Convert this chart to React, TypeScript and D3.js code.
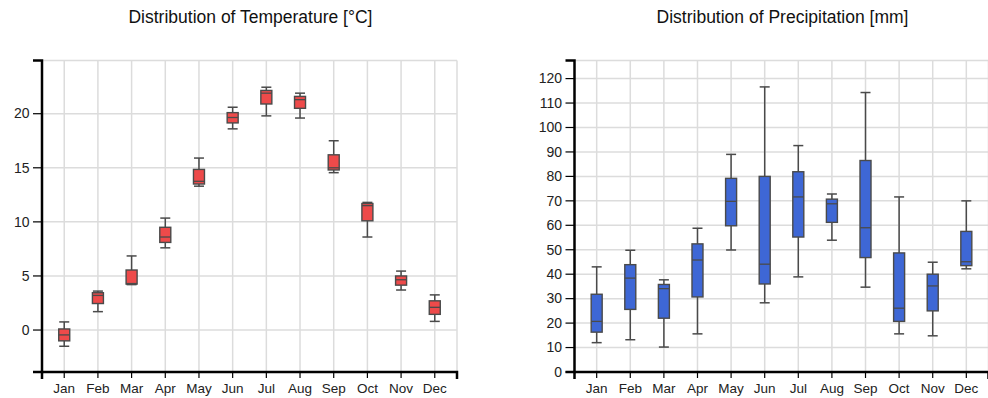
import React from "react";
import * as d3 from "d3";

const months = ["Jan", "Feb", "Mar", "Apr", "May", "Jun", "Jul", "Aug", "Sep", "Oct", "Nov", "Dec"];

const tempLow = [-1.5, 1.7, 4.2, 7.6, 13.3, 18.6, 19.8, 19.6, 14.55, 8.6, 3.7, 0.8];
const tempQ1 = [-1.0, 2.45, 4.25, 8.1, 13.5, 19.15, 20.9, 20.5, 14.8, 10.1, 4.15, 1.45];
const tempMedian = [-0.45, 3.2, 4.3, 8.6, 13.75, 19.65, 21.9, 21.3, 15.0, 11.5, 4.65, 2.1];
const tempQ3 = [0.1, 3.45, 5.55, 9.5, 14.85, 20.1, 22.15, 21.6, 16.2, 11.7, 5.0, 2.7];
const tempHigh = [0.75, 3.6, 6.85, 10.35, 15.9, 20.6, 22.45, 21.9, 17.5, 11.8, 5.45, 3.25];
const tempTicks = [0, 5, 10, 15, 20];

const precLow = [12, 13.2, 10.2, 15.6, 49.9, 28.3, 38.9, 53.9, 34.7, 15.6, 14.8, 42.2];
const precQ1 = [16.3, 25.6, 22, 30.7, 59.8, 36, 55.2, 61.2, 46.8, 20.7, 25, 43.5];
const precMedian = [20.7, 38.4, 34.1, 45.8, 69.8, 44.1, 71.6, 68.8, 59, 26.1, 35.2, 45.1];
const precQ3 = [31.8, 43.9, 35.8, 52.4, 79.2, 80, 81.9, 70.7, 86.5, 48.7, 40, 57.5];
const precHigh = [43, 49.8, 37.7, 58.8, 89, 116.6, 92.6, 72.8, 114.3, 71.6, 44.9, 70];
const precTicks = [0, 10, 20, 30, 40, 50, 60, 70, 80, 90, 100, 110, 120];

const FONT = "'Liberation Sans', Arial, Helvetica, sans-serif";

type PanelProps = {
  title: string;
  x0: number;
  x1: number;
  yDomain: [number, number];
  ticks: number[];
  low: number[];
  q1: number[];
  med: number[];
  q3: number[];
  high: number[];
  fill: string;
};

const Y_TOP = 60.5;
const Y_BOTTOM = 372;

function Panel(p: PanelProps) {
  const x = d3.scalePoint<string>().domain(months).range([p.x0, p.x1]).padding(0.66);
  const y = d3.scaleLinear().domain(p.yDomain).range([Y_BOTTOM, Y_TOP]);
  const boxW = 11;
  const capW = 10;
  const grid = "#dcdcdc";
  const stroke = "#4a4a4a";
  return (
    <g>
      <text
        x={(p.x0 + p.x1) / 2 + 1}
        y={23}
        textAnchor="middle"
        fontSize={17.5}
        fontFamily={FONT}
        fill="#111"
      >
        {p.title}
      </text>
      {/* grid */}
      {months.map((m) => (
        <line key={"v" + m} x1={x(m)} x2={x(m)} y1={Y_TOP} y2={Y_BOTTOM} stroke={grid} strokeWidth={1.5} />
      ))}
      {p.ticks.map((t) => (
        <line key={"h" + t} x1={p.x0} x2={p.x1} y1={y(t)} y2={y(t)} stroke={grid} strokeWidth={1.5} />
      ))}
      <line x1={p.x0} x2={p.x1} y1={Y_TOP} y2={Y_TOP} stroke={grid} strokeWidth={1.5} />
      <line x1={p.x1} x2={p.x1} y1={Y_TOP} y2={Y_BOTTOM} stroke={grid} strokeWidth={1.5} />
      {/* boxes */}
      {months.map((m, i) => {
        const cx = x(m) as number;
        return (
          <g key={"b" + m}>
            <line x1={cx} x2={cx} y1={y(p.high[i])} y2={y(p.q3[i])} stroke={stroke} strokeWidth={1.5} />
            <line x1={cx} x2={cx} y1={y(p.q1[i])} y2={y(p.low[i])} stroke={stroke} strokeWidth={1.5} />
            <line x1={cx - capW / 2} x2={cx + capW / 2} y1={y(p.high[i])} y2={y(p.high[i])} stroke={stroke} strokeWidth={1.5} />
            <line x1={cx - capW / 2} x2={cx + capW / 2} y1={y(p.low[i])} y2={y(p.low[i])} stroke={stroke} strokeWidth={1.5} />
            <rect
              x={cx - boxW / 2}
              y={y(p.q3[i])}
              width={boxW}
              height={y(p.q1[i]) - y(p.q3[i])}
              fill={p.fill}
              stroke={stroke}
              strokeWidth={1.4}
            />
            <line x1={cx - boxW / 2} x2={cx + boxW / 2} y1={y(p.med[i])} y2={y(p.med[i])} stroke={stroke} strokeWidth={1.3} />
          </g>
        );
      })}
      {/* y axis */}
      <path
        d={`M${p.x0 - 9},${Y_TOP}H${p.x0}V${Y_BOTTOM}H${p.x0 - 9}`}
        fill="none"
        stroke="#000"
        strokeWidth={2.5}
      />
      {p.ticks.map((t) => (
        <g key={"yt" + t}>
          <line x1={p.x0 - 9} x2={p.x0} y1={y(t)} y2={y(t)} stroke="#000" strokeWidth={1.2} />
          <text
            x={p.x0 - 12.5}
            y={y(t)}
            dy="0.34em"
            textAnchor="end"
            fontSize={14}
            fontFamily={FONT}
            fill="#222"
          >
            {t}
          </text>
        </g>
      ))}
      {/* x axis */}
      <path
        d={`M${p.x0},${Y_BOTTOM + 7}V${Y_BOTTOM}H${p.x1}V${Y_BOTTOM + 7}`}
        fill="none"
        stroke="#000"
        strokeWidth={2.5}
      />
      {months.map((m) => (
        <g key={"xt" + m}>
          <line x1={x(m)} x2={x(m)} y1={Y_BOTTOM} y2={Y_BOTTOM + 6} stroke="#000" strokeWidth={1.2} />
          <text x={x(m)} y={Y_BOTTOM + 21} textAnchor="middle" fontSize={13.5} fontFamily={FONT} fill="#222">
            {m}
          </text>
        </g>
      ))}
    </g>
  );
}

export default function App() {
  return (
    <svg
      width={988}
      height={398}
      style={{ position: "absolute", left: 0, top: 0, display: "block", background: "#fff" }}
    >
      <Panel
        title="Distribution of Temperature [°C]"
        x0={42}
        x1={457}
        yDomain={[-3.88, 24.92]}
        ticks={tempTicks}
        low={tempLow}
        q1={tempQ1}
        med={tempMedian}
        q3={tempQ3}
        high={tempHigh}
        fill="#ee4a4a"
      />
      <Panel
        title="Distribution of Precipitation [mm]"
        x0={574.5}
        x1={988.5}
        yDomain={[0, 127.4]}
        ticks={precTicks}
        low={precLow}
        q1={precQ1}
        med={precMedian}
        q3={precQ3}
        high={precHigh}
        fill="#3e67d5"
      />
    </svg>
  );
}
